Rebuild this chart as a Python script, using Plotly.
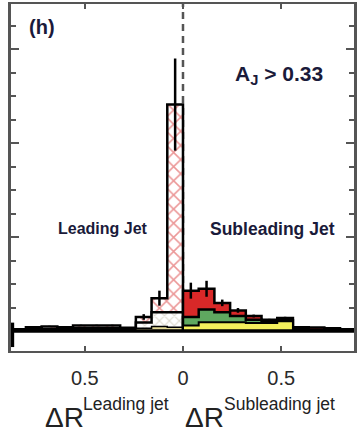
import numpy as np
import plotly.graph_objects as go

# ---- data ----
bin_w = 0.08
edges_R = [round(i * bin_w, 2) for i in range(12)]          # 0 .. 0.88
edges_L = [round(-0.88 + i * bin_w, 2) for i in range(12)]  # -0.88 .. 0

# subleading side (cumulative stacked heights)
total_R = [0.43, 0.45, 0.30, 0.22, 0.16, 0.12, 0.14, 0.04, 0.037, 0.03, 0.02]
green_R = [0.15, 0.23, 0.20, 0.16, 0.12, 0.105, 0.115, 0.02, 0.015, 0.01, 0.008]
yellow_R = [0.06, 0.095, 0.095, 0.095, 0.085, 0.085, 0.105, 0.01, 0.01, 0.005, 0.005]
err_R = [0.085, 0.085, 0.035, 0.025, 0.015, 0.01, 0.012, 0.005, 0.005, 0.004, 0.004]

# leading side (cumulative stacked heights), left to right
total_L = [0.02, 0.04, 0.05, 0.04, 0.06, 0.06, 0.06, 0.035, 0.15, 0.35, 2.41]
gray_L = [0.01, 0.02, 0.02, 0.02, 0.03, 0.03, 0.03, 0.02, 0.09, 0.20, 0.20]
paleY_L = [0.005, 0.01, 0.01, 0.01, 0.02, 0.02, 0.02, 0.01, 0.03, 0.05, 0.04]
err_L = [0.004, 0.005, 0.006, 0.005, 0.007, 0.007, 0.007, 0.005, 0.03, 0.08, 0.49]

tick_vals = [-0.5, 0, 0.5]
tick_text = ["0.5", "0", "0.5"]

XR = [-0.876, 0.871]
YR = [-0.212, 3.48]

def step(edges, vals):
    xs = [edges[0], edges[0]] + list(edges[1:-1]) + [edges[-1], edges[-1]]
    ys = [0] + list(vals) + [vals[-1], 0]
    return xs, ys

fig = go.Figure()

def add_step(edges, vals, fill, pattern=None, lw=2.5):
    xs, ys = step(edges, vals)
    kw = dict(x=xs, y=ys, mode="lines", line=dict(color="black", width=lw, shape="hv"),
              fill="tozeroy", fillcolor=fill, hoverinfo="skip", showlegend=False)
    if pattern is not None:
        kw["fillpattern"] = pattern
    fig.add_trace(go.Scatter(**kw))

# leading side
add_step(edges_L, total_L, "white",
         pattern=dict(shape="x", fgcolor="#d83030", bgcolor="white", size=10, solidity=0.28))
add_step(edges_L, gray_L, "white",
         pattern=dict(shape="x", fgcolor="#b8b098", bgcolor="white", size=7, solidity=0.3))
add_step(edges_L, paleY_L, "#e6dc98", lw=1.5)

# subleading side
add_step(edges_R, total_R, "#d82828")
add_step(edges_R, green_R, "#5fa860")
add_step(edges_R, yellow_R, "#f3ef5c", lw=2)

# error bars
cen_L = [(edges_L[i] + edges_L[i + 1]) / 2 for i in range(len(total_L))]
cen_R = [(edges_R[i] + edges_R[i + 1]) / 2 for i in range(len(total_R))]
fig.add_trace(go.Scatter(
    x=cen_L + cen_R, y=total_L + total_R, mode="markers",
    marker=dict(size=0.1, color="black"),
    error_y=dict(type="data", array=err_L + err_R, color="black", thickness=2.5, width=0),
    hoverinfo="skip", showlegend=False))

# dashed zero line (behind)
fig.add_shape(type="line", x0=0, x1=0, y0=0, y1=YR[1], layer="below",
              line=dict(color="#555555", width=2.5, dash="7px,5px"))
# baseline and lower box edge
fig.add_shape(type="line", x0=XR[0], x1=XR[1], y0=0, y1=0,
              line=dict(color="black", width=3.5))
fig.add_shape(type="line", x0=XR[0] + 0.006, x1=XR[0] + 0.006, y0=-0.17, y1=0.09,
              line=dict(color="black", width=4))

font = "Liberation Sans, Arial, Helvetica, sans-serif"
tc = "#1a1a3a"

def px_x(p):
    return (p - 11) / 346

def px_y(p):
    return (351 - p) / 349

ann = [
    dict(x=px_x(42), y=px_y(25), text="<b>(h)</b>", size=20),
    dict(x=px_x(281), y=px_y(73), text="<b>A<sub>J</sub> &gt; 0.33</b>", size=21),
    dict(x=px_x(104), y=px_y(228), text="<b>Leading Jet</b>", size=16),
    dict(x=px_x(275), y=px_y(228), text="<b>Subleading Jet</b>", size=17.5),
]
for a in ann:
    fig.add_annotation(x=a["x"], y=a["y"], xref="paper", yref="paper",
                       text=a["text"], showarrow=False, xanchor="center", yanchor="middle",
                       font=dict(family=font, size=a["size"], color=tc))

# axis titles: big ΔR with raised superscript label
title_parts = [(43, 82, "Leading jet"), (184, 224, "Subleading jet")]
for xd, xs_, sup in title_parts:
    fig.add_annotation(x=px_x(xd), y=px_y(418), xref="paper", yref="paper", text="ΔR",
                       showarrow=False, xanchor="left", yanchor="middle",
                       font=dict(family=font, size=28, color="#222222"))
    fig.add_annotation(x=px_x(xs_), y=px_y(404), xref="paper", yref="paper", text=sup,
                       showarrow=False, xanchor="left", yanchor="middle",
                       font=dict(family=font, size=17.5, color="#222222"))

fig.update_layout(
    width=359, height=432, margin=dict(l=11, r=2, t=2, b=81),
    paper_bgcolor="white", plot_bgcolor="white",
    xaxis=dict(range=XR, showgrid=False, zeroline=False, showline=True, linecolor="#555555",
               linewidth=2, mirror="ticks", ticks="inside", ticklen=5, tickcolor="#555555",
               tickwidth=1.5, tickvals=tick_vals, ticktext=tick_text, ticklabelstandoff=8,
               tickfont=dict(family=font, size=20, color="#2a2a2a")),
    yaxis=dict(range=YR, showgrid=False, zeroline=False, showline=True, linecolor="#555555",
               linewidth=2.5, mirror="ticks", ticks="inside", ticklen=8, tickcolor="#555555",
               tickwidth=2, dtick=1, tick0=0, showticklabels=False,
               minor=dict(ticks="inside", ticklen=5, dtick=0.25, tickcolor="#555555", tickwidth=2,
                          showgrid=False)),
)

fig.write_html("out.html")
